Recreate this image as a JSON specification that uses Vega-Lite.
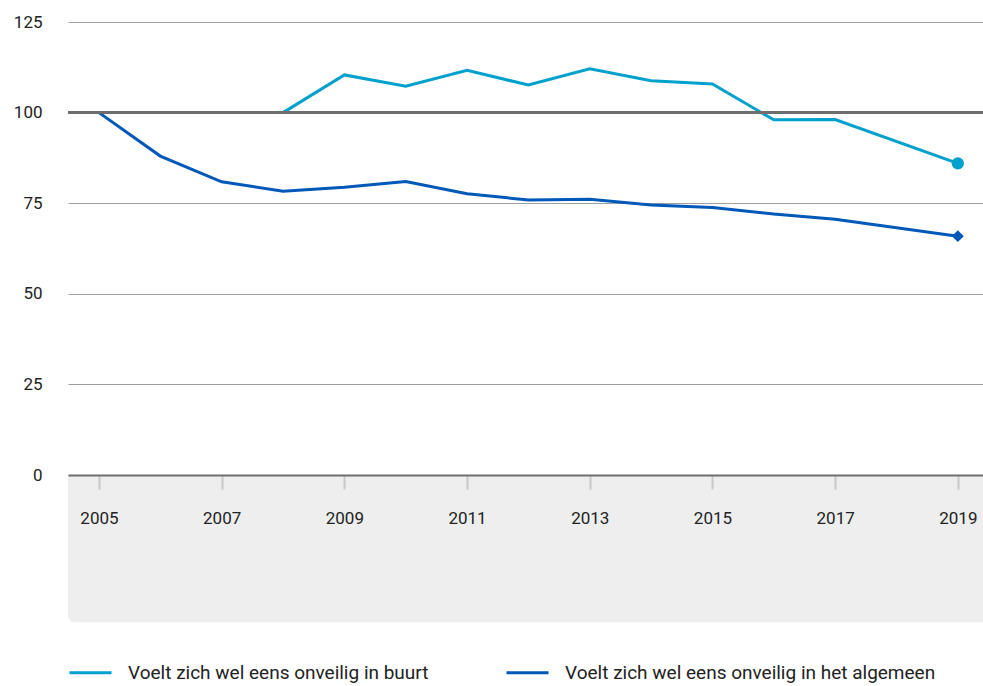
{
  "$schema": "https://vega.github.io/schema/vega-lite/v6.json",
  "width": 915,
  "height": 453,
  "autosize": {"type": "none"},
  "padding": {"left": 68, "top": 22, "right": 0, "bottom": 211},
  "background": "white",
  "config": {
    "view": {"stroke": null},
    "font": "Roboto",
    "axis": {"labelFont": "Roboto", "labelFontSize": 17, "labelColor": "#222222"},
    "legend": {"labelFont": "Roboto", "labelFontSize": 19, "labelColor": "#222222"}
  },
  "datasets": {
    "series": [
      {"year": 2008, "series": "Voelt zich wel eens onveilig in buurt", "value": 100},
      {"year": 2009, "series": "Voelt zich wel eens onveilig in buurt", "value": 110.4},
      {"year": 2010, "series": "Voelt zich wel eens onveilig in buurt", "value": 107.3},
      {"year": 2011, "series": "Voelt zich wel eens onveilig in buurt", "value": 111.7},
      {"year": 2012, "series": "Voelt zich wel eens onveilig in buurt", "value": 107.6},
      {"year": 2013, "series": "Voelt zich wel eens onveilig in buurt", "value": 112.1},
      {"year": 2014, "series": "Voelt zich wel eens onveilig in buurt", "value": 108.8},
      {"year": 2015, "series": "Voelt zich wel eens onveilig in buurt", "value": 107.9},
      {"year": 2016, "series": "Voelt zich wel eens onveilig in buurt", "value": 98},
      {"year": 2017, "series": "Voelt zich wel eens onveilig in buurt", "value": 98.1},
      {"year": 2019, "series": "Voelt zich wel eens onveilig in buurt", "value": 86},
      {"year": 2005, "series": "Voelt zich wel eens onveilig in het algemeen", "value": 100},
      {"year": 2006, "series": "Voelt zich wel eens onveilig in het algemeen", "value": 88},
      {"year": 2007, "series": "Voelt zich wel eens onveilig in het algemeen", "value": 80.9},
      {"year": 2008, "series": "Voelt zich wel eens onveilig in het algemeen", "value": 78.3},
      {"year": 2009, "series": "Voelt zich wel eens onveilig in het algemeen", "value": 79.4},
      {"year": 2010, "series": "Voelt zich wel eens onveilig in het algemeen", "value": 81},
      {"year": 2011, "series": "Voelt zich wel eens onveilig in het algemeen", "value": 77.6},
      {"year": 2012, "series": "Voelt zich wel eens onveilig in het algemeen", "value": 75.9},
      {"year": 2013, "series": "Voelt zich wel eens onveilig in het algemeen", "value": 76.1},
      {"year": 2014, "series": "Voelt zich wel eens onveilig in het algemeen", "value": 74.5},
      {"year": 2015, "series": "Voelt zich wel eens onveilig in het algemeen", "value": 73.8},
      {"year": 2016, "series": "Voelt zich wel eens onveilig in het algemeen", "value": 72},
      {"year": 2017, "series": "Voelt zich wel eens onveilig in het algemeen", "value": 70.6},
      {"year": 2019, "series": "Voelt zich wel eens onveilig in het algemeen", "value": 65.9}
    ],
    "panel": [{"x0": 2004.495, "x1": 2019.41, "y0": 0, "y1": -40.6}],
    "baseline": [{"v": 100}]
  },
  "layer": [
    {
      "data": {"name": "panel"},
      "mark": {"type": "rect", "color": "#eeeeee", "cornerRadiusBottomLeft": 7},
      "encoding": {
        "x": {
          "field": "x0", "type": "quantitative",
          "scale": {"domain": [2004.495, 2019.41], "nice": false, "zero": false},
          "axis": {
            "title": null, "values": [2005, 2007, 2009, 2011, 2013, 2015, 2017, 2019], "format": "d",
            "grid": false, "domainColor": "#6e6e6e", "domainWidth": 2,
            "tickColor": "#c8c8c8", "tickWidth": 2, "tickSize": 14, "labelPadding": 21,
            "labelFlush": false, "zindex": 1
          }
        },
        "x2": {"field": "x1"},
        "y": {
          "field": "y0", "type": "quantitative",
          "scale": {"domain": [0, 125], "nice": false},
          "axis": {
            "title": null, "values": [0, 25, 50, 75, 100, 125], "domain": false, "ticks": false,
            "labelPadding": 26, "grid": true, "gridColor": "#a0a0a0", "gridWidth": 1.2,
            "labelBaseline": "middle", "labelFlush": false
          }
        },
        "y2": {"field": "y1"}
      }
    },
    {
      "data": {"name": "series"},
      "mark": {"type": "line", "strokeWidth": 3},
      "encoding": {
        "x": {"field": "year", "type": "quantitative"},
        "y": {"field": "value", "type": "quantitative"},
        "color": {
          "field": "series", "type": "nominal",
          "scale": {
            "domain": ["Voelt zich wel eens onveilig in buurt", "Voelt zich wel eens onveilig in het algemeen"],
            "range": ["#00a1cd", "#0058b8"]
          },
          "legend": {
            "title": null, "orient": "none", "legendX": 0, "legendY": 628, "direction": "horizontal",
            "symbolType": "stroke", "symbolSize": 1764, "symbolStrokeWidth": 3,
            "labelOffset": 15, "columnPadding": 71, "labelLimit": 600
          }
        }
      }
    },
    {
      "data": {"name": "baseline"},
      "mark": {"type": "rule", "color": "#6e6e6e", "strokeWidth": 3},
      "encoding": {
        "y": {"field": "v", "type": "quantitative"}
      }
    },
    {
      "data": {"name": "series"},
      "transform": [{"filter": "datum.year === 2019 && datum.series === 'Voelt zich wel eens onveilig in buurt'"}],
      "mark": {"type": "point", "filled": true, "opacity": 1, "shape": "circle", "color": "#00a1cd", "size": 150},
      "encoding": {
        "x": {"field": "year", "type": "quantitative"},
        "y": {"field": "value", "type": "quantitative"}
      }
    },
    {
      "data": {"name": "series"},
      "transform": [{"filter": "datum.year === 2019 && datum.series === 'Voelt zich wel eens onveilig in het algemeen'"}],
      "mark": {"type": "point", "filled": true, "opacity": 1, "shape": "diamond", "color": "#0058b8", "size": 140},
      "encoding": {
        "x": {"field": "year", "type": "quantitative"},
        "y": {"field": "value", "type": "quantitative"}
      }
    }
  ]
}
